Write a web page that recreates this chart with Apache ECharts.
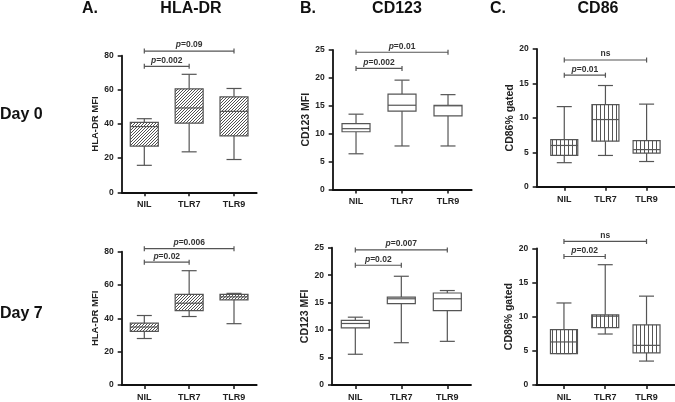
<!DOCTYPE html>
<html><head><meta charset="utf-8">
<script src="https://cdn.jsdelivr.net/npm/echarts@6/dist/echarts.min.js"></script>
<style>html,body{margin:0;padding:0;background:#fff}#c{width:675px;height:402px}</style>
</head><body><div id="c"></div>
<script>
// ---------- data ----------
const categories = ['NIL', 'TLR7', 'TLR9'];
const markers = ['HLA-DR', 'CD123', 'CD86'];
const panelLetters = ['A.', 'B.', 'C.'];
const days = ['Day 0', 'Day 7'];
const yAxisNames = ['HLA-DR MFI', 'CD123 MFI', 'CD86% gated'];
const yMax = [80, 25, 20];
const yStep = [20, 5, 5];

// [min, Q1, median, Q3, max] per category
const hlaDay0 = [[15.8, 27.1, 38.5, 40.9, 43.1], [23.7, 40.5, 49.4, 60.6, 69.1], [19.2, 33.0, 47.4, 55.9, 60.8]];
const cd123Day0 = [[6.4, 10.35, 10.9, 11.8, 13.5], [7.8, 14.05, 15.1, 17.1, 19.6], [7.8, 13.2, 15.0, 15.1, 17.0]];
const cd86Day0 = [[3.5, 4.55, 6.0, 6.86, 11.64], [4.55, 6.62, 9.76, 11.93, 14.7], [3.67, 4.9, 5.4, 6.7, 12.0]];
const hlaDay7 = [[27.9, 32.2, 34.8, 37.1, 41.7], [41.1, 44.6, 49.1, 54.4, 68.6], [36.8, 51.1, 52.9, 54.4, 55.0]];
const cd123Day7 = [[5.6, 10.4, 11.2, 11.75, 12.35], [7.7, 14.8, 15.7, 16.0, 19.8], [7.95, 13.55, 15.7, 16.75, 17.2]];
const cd86Day7 = [[4.6, 4.6, 6.3, 8.09, 12.0], [7.46, 8.38, 10.07, 10.27, 17.6], [3.5, 4.7, 5.8, 8.8, 13.0]];

// significance brackets: [fromCategory, toCategory, yValue, label]
const brHlaDay0 = [[0, 2, 82.7, 'p=0.09'], [0, 1, 73.8, 'p=0.002']];
const brCd123Day0 = [[0, 2, 24.6, 'p=0.01'], [0, 1, 21.7, 'p=0.002']];
const brCd86Day0 = [[0, 2, 18.4, 'ns'], [0, 1, 16.2, 'p=0.01']];
const brHlaDay7 = [[0, 2, 81.8, 'p=0.006'], [0, 1, 73.7, 'p=0.02']];
const brCd123Day7 = [[0, 2, 24.6, 'p=0.007'], [0, 1, 21.8, 'p=0.02']];
const brCd86Day7 = [[0, 2, 21.0, 'ns'], [0, 1, 18.8, 'p=0.02']];

const boxData = [[hlaDay0, cd123Day0, cd86Day0], [hlaDay7, cd123Day7, cd86Day7]];
const bracketData = [[brHlaDay0, brCd123Day0, brCd86Day0], [brHlaDay7, brCd123Day7, brCd86Day7]];

// ---------- layout / style ----------
const FONT = '"Liberation Sans", Arial, sans-serif';
const gridPos = [
  [{left: 121.7, top: 55.7, width: 135, height: 136.6}, {left: 332.7, top: 50, width: 139, height: 139.5}, {left: 536.7, top: 49, width: 139, height: 137.8}],
  [{left: 121.7, top: 251.7, width: 135, height: 135.6}, {left: 332, top: 247.7, width: 139, height: 138.3}, {left: 536.3, top: 248.3, width: 139, height: 137.7}]
];
const xRange = [[-0.504, 2.506], [-0.507, 2.515], [-0.67, 2.69]];
const nameSize = [9.5, 10.5, 10.5];
const nameGap = [21, 20, 19.5];
const halfBox = [14, 14, 13.5];

function makePattern(kind) {
  const c = document.createElement('canvas');
  const s = kind === 'diag' ? 3 : 4;
  c.width = s; c.height = s;
  const g = c.getContext('2d');
  g.fillStyle = '#fff'; g.fillRect(0, 0, s, s);
  g.strokeStyle = '#3c3c3c'; g.lineWidth = 0.9;
  if (kind === 'diag') {
    g.beginPath();
    g.moveTo(-1, s + 1); g.lineTo(s + 1, -1);
    g.moveTo(-1, 1); g.lineTo(1, -1);
    g.moveTo(s - 1, s + 1); g.lineTo(s + 1, s - 1);
    g.stroke();
  } else if (kind === 'vert') {
    g.fillStyle = '#555'; g.fillRect(0, 0, 1, s);
  }
  return {image: c, repeat: 'repeat'};
}
const fills = [makePattern('diag'), '#fff', makePattern('vert')];
const STROKE = '#555';

const chart = echarts.init(document.getElementById('c'), null, {renderer: 'canvas'});

const grids = [], xAxes = [], yAxes = [], series = [];
for (let r = 0; r < 2; r++) {
  for (let p = 0; p < 3; p++) {
    const idx = grids.length;
    grids.push(Object.assign({containLabel: false}, gridPos[r][p]));
    xAxes.push({
      type: 'value', gridIndex: idx, min: xRange[p][0], max: xRange[p][1],
      splitLine: {show: false},
      axisLine: {onZero: false, lineStyle: {color: '#111', width: 1.8}},
      axisTick: {show: true, customValues: [0, 1, 2], length: 4, lineStyle: {color: '#111', width: 1.5}},
      axisLabel: {customValues: [0, 1, 2], formatter: v => categories[Math.round(v)] || '', margin: 8,
        fontFamily: FONT, fontWeight: 'bold', fontSize: 9, color: '#222'}
    });
    yAxes.push({
      type: 'value', gridIndex: idx, min: 0, max: yMax[p], interval: yStep[p],
      splitLine: {show: false},
      axisLine: {show: true, onZero: false, lineStyle: {color: '#111', width: 1.8}},
      axisTick: {show: true, length: 4, lineStyle: {color: '#111', width: 1.5}},
      axisLabel: {margin: 8, fontFamily: FONT, fontWeight: 'bold', fontSize: 8.5, color: '#222'},
      name: yAxisNames[p], nameLocation: 'middle', nameGap: nameGap[p],
      nameTextStyle: {fontFamily: FONT, fontWeight: 'bold', fontSize: nameSize[p], color: '#222'}
    });
    const fill = fills[p];
    const hb = halfBox[p];
    series.push({
      type: 'custom', xAxisIndex: idx, yAxisIndex: idx, clip: false,
      data: boxData[r][p].map((v, i) => [i].concat(v)),
      renderItem: function (params, api) {
        const x = api.value(0);
        const pLo = api.coord([x, api.value(1)]);
        const pQ1 = api.coord([x, api.value(2)]);
        const pMed = api.coord([x, api.value(3)]);
        const pQ3 = api.coord([x, api.value(4)]);
        const pHi = api.coord([x, api.value(5)]);
        const cx = pLo[0];
        const ls = {stroke: STROKE, lineWidth: 1.2, fill: null};
        const cap = 7.5;
        return {type: 'group', children: [
          {type: 'line', shape: {x1: cx, y1: pHi[1], x2: cx, y2: pQ3[1]}, style: ls},
          {type: 'line', shape: {x1: cx, y1: pQ1[1], x2: cx, y2: pLo[1]}, style: ls},
          {type: 'line', shape: {x1: cx - cap, y1: pHi[1], x2: cx + cap, y2: pHi[1]}, style: ls},
          {type: 'line', shape: {x1: cx - cap, y1: pLo[1], x2: cx + cap, y2: pLo[1]}, style: ls},
          {type: 'rect', shape: {x: cx - hb, y: pQ3[1], width: 2 * hb, height: pQ1[1] - pQ3[1]},
            style: {fill: fill, stroke: STROKE, lineWidth: 1.2}},
          {type: 'line', shape: {x1: cx - hb, y1: pMed[1], x2: cx + hb, y2: pMed[1]}, style: ls}
        ]};
      }
    });
    const brs = bracketData[r][p];
    series.push({
      type: 'custom', xAxisIndex: idx, yAxisIndex: idx, clip: false,
      data: brs.map(b => [b[0], b[1], b[2]]),
      renderItem: function (params, api) {
        const a = api.coord([api.value(0), api.value(2)]);
        const b = api.coord([api.value(1), api.value(2)]);
        const lbl = brs[params.dataIndex][3];
        const ls = {stroke: '#555', lineWidth: 1.2, fill: null};
        const txt = lbl.charAt(0) === 'p' ? '{i|p}{b|' + lbl.slice(1) + '}' : '{b|' + lbl + '}';
        return {type: 'group', children: [
          {type: 'line', shape: {x1: a[0], y1: a[1], x2: b[0], y2: b[1]}, style: ls},
          {type: 'line', shape: {x1: a[0], y1: a[1] - 2.5, x2: a[0], y2: a[1] + 2.5}, style: ls},
          {type: 'line', shape: {x1: b[0], y1: b[1] - 2.5, x2: b[0], y2: b[1] + 2.5}, style: ls},
          {type: 'text', x: (a[0] + b[0]) / 2, y: a[1] - 1.5, style: {
            text: txt, align: 'center', verticalAlign: 'bottom',
            rich: {
              i: {fontFamily: FONT, fontStyle: 'italic', fontWeight: 'bold', fontSize: 8.5, fill: '#333'},
              b: {fontFamily: FONT, fontWeight: 'bold', fontSize: 8.5, fill: '#333'}
            }
          }}
        ]};
      }
    });
  }
}

const titleX = [191, 397, 598];
const letterX = [82, 300, 490];
const dayY = [115, 314];
const graphics = [];
for (let p = 0; p < 3; p++) {
  graphics.push({type: 'text', x: letterX[p], y: 9, style: {text: panelLetters[p], font: 'bold 16px ' + FONT, fill: '#111', align: 'left', verticalAlign: 'middle'}});
  graphics.push({type: 'text', x: titleX[p], y: 9, style: {text: markers[p], font: 'bold 16px ' + FONT, fill: '#111', align: 'center', verticalAlign: 'middle'}});
}
for (let r = 0; r < 2; r++) {
  graphics.push({type: 'text', x: 0, y: dayY[r], style: {text: days[r], font: 'bold 16px ' + FONT, fill: '#111', align: 'left', verticalAlign: 'middle'}});
}

chart.setOption({
  animation: false,
  backgroundColor: '#fff',
  grid: grids, xAxis: xAxes, yAxis: yAxes, series: series,
  graphic: graphics
});
</script></body></html>
